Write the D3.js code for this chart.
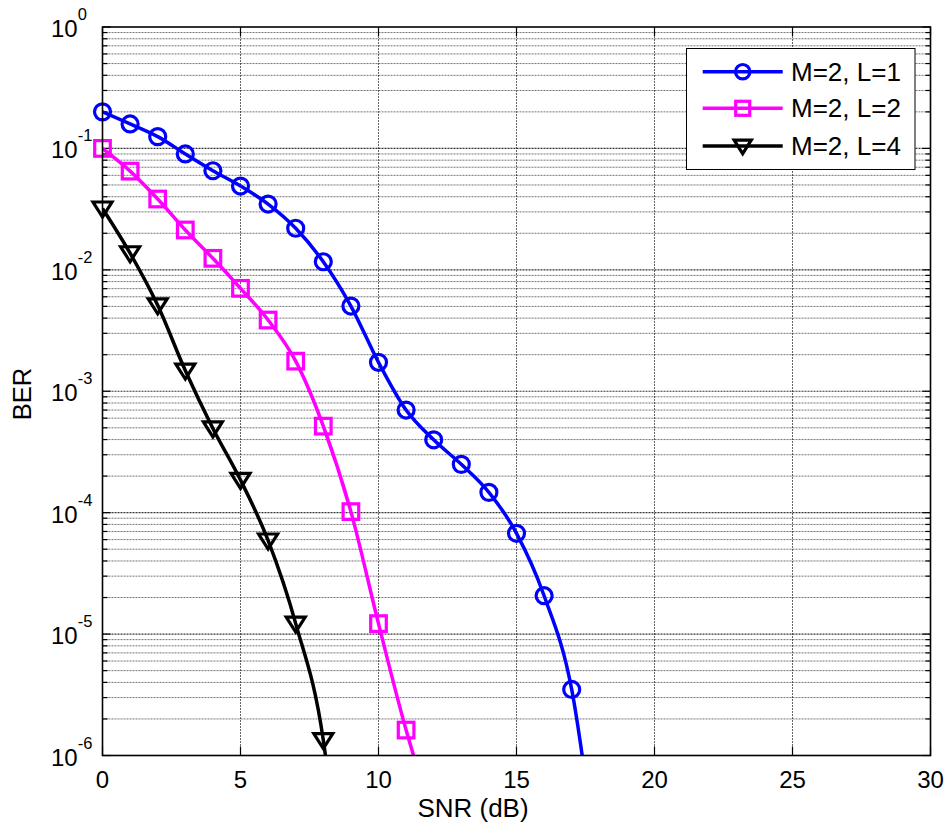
<!DOCTYPE html>
<html>
<head>
<meta charset="utf-8">
<script src="https://cdn.jsdelivr.net/npm/d3@7/dist/d3.min.js"></script>
<style>
  html, body { margin: 0; padding: 0; background: #fff; }
  svg { display: block; font-family: "Liberation Sans", Arial, Helvetica, sans-serif; }
</style>
</head>
<body>
<svg id="chart" width="948" height="833"></svg>
<script>
// ---- data ----
const snrL1 = [0, 1, 2, 3, 4, 5, 6, 7, 8, 9, 10, 11, 12, 13, 14, 15, 16, 17, 18];
const berL1 = [0.2, 0.159, 0.125, 0.09, 0.0655, 0.049, 0.0348, 0.022, 0.01166, 0.00503, 0.00173, 0.0007, 0.000398, 0.00025, 0.000147, 6.76e-5, 2.07e-5, 3.5e-6, 8.5e-8];
const snrL2 = [0, 1, 2, 3, 4, 5, 6, 7, 8, 9, 10, 11, 12];
const berL2 = [0.1, 0.065, 0.0383, 0.0213, 0.01244, 0.00704, 0.00386, 0.00177, 0.000516, 0.000102, 1.22e-5, 1.62e-6, 3e-7];
const snrL4 = [0, 1, 2, 3, 4, 5, 6, 7, 8, 9];
const berL4 = [0.032, 0.0137, 0.0051, 0.00148, 0.000494, 0.000186, 5.9e-5, 1.22e-5, 1.34e-6, 1e-8];
const seriesNames = ["M=2, L=1", "M=2, L=2", "M=2, L=4"];
const xTicks = [0, 5, 10, 15, 20, 25, 30];
const yExponents = [0, -1, -2, -3, -4, -5, -6];
const xLabel = "SNR (dB)";
const yLabel = "BER";

// ---- layout ----
const L = 102.5, R = 930.5, T = 27, B = 755.5;
const svg = d3.select("#chart");
const x = d3.scaleLinear().domain([0, 30]).range([L, R]);
const y = d3.scaleLog().domain([1e-6, 1]).range([B, T]);

const series = [
  { name: seriesNames[0], xs: snrL1, ys: berL1, color: "#0000ff", marker: "circle" },
  { name: seriesNames[1], xs: snrL2, ys: berL2, color: "#ff00ff", marker: "square" },
  { name: seriesNames[2], xs: snrL4, ys: berL4, color: "#000000", marker: "triangle" }
];

// ---- grid ----
const grid = svg.append("g");
const minorVals = [];
for (let e = -6; e < 0; e++) for (let k = 2; k <= 9; k++) minorVals.push(k * Math.pow(10, e));
grid.selectAll("line.minor").data(minorVals).join("line")
  .attr("x1", L).attr("x2", R)
  .attr("y1", d => y(d)).attr("y2", d => y(d))
  .attr("stroke", "#000").attr("stroke-opacity", 0.55)
  .attr("stroke-width", 1).attr("stroke-dasharray", "2,1");
grid.selectAll("line.major").data(yExponents.slice(1, -1)).join("line")
  .attr("x1", L).attr("x2", R)
  .attr("y1", d => y(Math.pow(10, d))).attr("y2", d => y(Math.pow(10, d)))
  .attr("stroke", "#000").attr("stroke-opacity", 0.8)
  .attr("stroke-width", 1.2).attr("stroke-dasharray", "2,1");
grid.selectAll("line.xg").data(xTicks.slice(1, -1)).join("line")
  .attr("x1", d => x(d)).attr("x2", d => x(d))
  .attr("y1", T).attr("y2", B)
  .attr("stroke", "#000").attr("stroke-opacity", 0.6)
  .attr("stroke-width", 1).attr("stroke-dasharray", "2,1");

// ---- ticks (inward, all four sides) ----
const ticks = svg.append("g").attr("stroke", "#000").attr("stroke-width", 1.2);
yExponents.forEach(e => {
  const yy = y(Math.pow(10, e));
  ticks.append("line").attr("x1", L).attr("x2", L + 8).attr("y1", yy).attr("y2", yy);
  ticks.append("line").attr("x1", R).attr("x2", R - 8).attr("y1", yy).attr("y2", yy);
});
minorVals.forEach(v => {
  const yy = y(v);
  ticks.append("line").attr("x1", L).attr("x2", L + 5).attr("y1", yy).attr("y2", yy);
  ticks.append("line").attr("x1", R).attr("x2", R - 5).attr("y1", yy).attr("y2", yy);
});
xTicks.forEach(t => {
  ticks.append("line").attr("x1", x(t)).attr("x2", x(t)).attr("y1", B).attr("y2", B - 9);
  ticks.append("line").attr("x1", x(t)).attr("x2", x(t)).attr("y1", T).attr("y2", T + 9);
});

// ---- tick labels ----
const xl = svg.append("g").attr("font-size", 24).attr("fill", "#000");
xl.selectAll("text").data(xTicks).join("text")
  .attr("x", d => x(d)).attr("y", 788).attr("text-anchor", "middle").text(d => d);

const yl = svg.append("g").attr("fill", "#000");
yExponents.forEach(e => {
  const yy = y(Math.pow(10, e));
  const t = yl.append("text").attr("x", 51).attr("y", yy + 10).attr("font-size", 24);
  t.append("tspan").text("10");
  t.append("tspan").attr("font-size", 16.5).attr("dy", -17).text(e === 0 ? "0" : "-" + Math.abs(e));
});

// axis labels
svg.append("text").attr("x", 473).attr("y", 817).attr("text-anchor", "middle")
  .attr("font-size", 26).text(xLabel);
svg.append("text").attr("transform", "translate(31,394) rotate(-90)")
  .attr("text-anchor", "middle").attr("font-size", 25.5).text(yLabel);

// ---- lines ----
svg.append("clipPath").attr("id", "plotclip").append("rect")
  .attr("x", L).attr("y", T).attr("width", R - L).attr("height", B - T);

const line = d3.line().curve(d3.curveMonotoneX).x(d => x(d[0])).y(d => y(d[1]));
const lines = svg.append("g").attr("clip-path", "url(#plotclip)");
series.forEach(s => {
  const pts = s.xs.map((v, i) => [v, s.ys[i]]);
  lines.append("path").datum(pts).attr("d", line)
    .attr("fill", "none").attr("stroke", s.color).attr("stroke-width", 3.5)
    .attr("stroke-linejoin", "round");
});

// ---- markers ----
function drawMarker(g, type, cx, cy, color, scale) {
  const k = scale || 1;
  if (type === "circle") {
    g.append("circle").attr("cx", cx).attr("cy", cy).attr("r", 8 * k)
      .attr("fill", "none").attr("stroke", color).attr("stroke-width", 3.2);
  } else if (type === "square") {
    const h = 7.8 * k;
    g.append("rect").attr("x", cx - h).attr("y", cy - h).attr("width", 2 * h).attr("height", 2 * h)
      .attr("fill", "none").attr("stroke", color).attr("stroke-width", 3.2);
  } else {
    const w = 9.5 * k, h = 6.5 * k;
    g.append("path").attr("d", `M${cx - w},${cy - h}L${cx + w},${cy - h}L${cx},${cy + h + 2 * k}Z`)
      .attr("fill", "none").attr("stroke", color).attr("stroke-width", 3.2)
      .attr("stroke-linejoin", "miter");
  }
}
const marks = svg.append("g");
series.forEach(s => {
  s.xs.forEach((v, i) => {
    if (s.ys[i] >= 1e-6) drawMarker(marks, s.marker, x(v), y(s.ys[i]), s.color, 1);
  });
});

// ---- axes box ----
svg.append("rect").attr("x", L).attr("y", T).attr("width", R - L).attr("height", B - T)
  .attr("fill", "none").attr("stroke", "#000").attr("stroke-width", 1.6);

// ---- legend ----
const lg = svg.append("g");
lg.append("rect").attr("x", 686.5).attr("y", 48.5).attr("width", 228.5).attr("height", 121)
  .attr("fill", "#fff").attr("stroke", "#000").attr("stroke-width", 1);
const rowsY = [71.7, 108.3, 146];
series.forEach((s, i) => {
  const ry = rowsY[i];
  lg.append("line").attr("x1", 702.7).attr("x2", 782.7).attr("y1", ry).attr("y2", ry)
    .attr("stroke", s.color).attr("stroke-width", 3.5);
  drawMarker(lg, s.marker, 742.7, ry, s.color, 0.9);
  lg.append("text").attr("x", 791).attr("y", ry + 9).attr("font-size", 26).text(s.name);
});
</script>
</body>
</html>
